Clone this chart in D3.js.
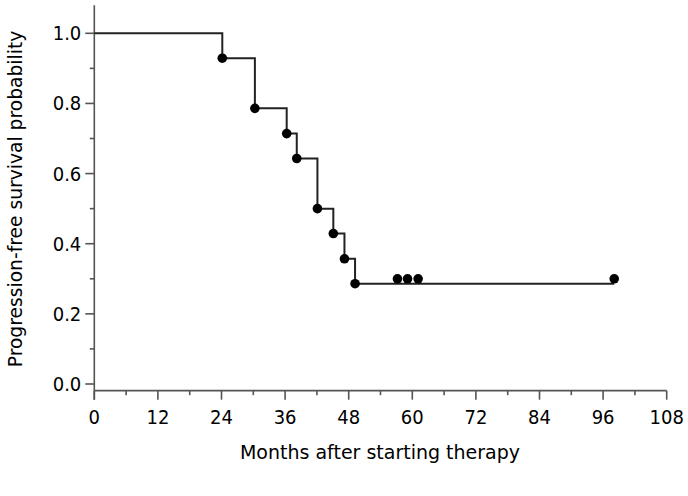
<!DOCTYPE html>
<html>
<head>
<meta charset="utf-8">
<script src="https://cdn.jsdelivr.net/npm/d3@7"></script>
<style>
  html, body { margin: 0; padding: 0; background: #fff; }
  svg { display: block; font-family: "DejaVu Sans", Verdana, sans-serif; }
</style>
</head>
<body>
<svg id="chart" width="688" height="496"></svg>
<script>
// ---- data ----
const eventTimes = [24.15, 30.3, 36.3, 38.2, 42.1, 45.1, 47.2, 49.2];
const survival   = [0.929, 0.786, 0.714, 0.643, 0.500, 0.429, 0.357, 0.286];
const censorTimes  = [57.2, 59.1, 61.1, 98.1];
const censorValues = [0.30, 0.30, 0.30, 0.30];
const followUpEnd = 98.1;
const xTicks = [0, 12, 24, 36, 48, 60, 72, 84, 96, 108];
const yTicks = [0.0, 0.2, 0.4, 0.6, 0.8, 1.0];
const xLabel = "Months after starting therapy";
const yLabel = "Progression-free survival probability";

// ---- layout ----
const svg = d3.select("#chart");
const x = d3.scaleLinear().domain([0, 108]).range([94.3, 666.7]);
const y = d3.scaleLinear().domain([0, 1]).range([384, 33.3]);
const axisY = y(-0.019);     // x-axis line position (below zero)
const axisTop = y(1.08);
const axisColor = "#555";
const textColor = "#000";

// x axis
const xMinor = d3.range(6, 108, 12);
const gx = svg.append("g").attr("transform", `translate(0,${axisY})`);
gx.append("line").attr("x1", x(0)).attr("x2", x(108)).attr("stroke", axisColor).attr("stroke-width", 1.6);
gx.selectAll("line.maj").data(xTicks).join("line").attr("class", "maj")
  .attr("x1", d => x(d)).attr("x2", d => x(d)).attr("y1", 0).attr("y2", 9)
  .attr("stroke", axisColor).attr("stroke-width", 1.6);
gx.selectAll("line.min").data(xMinor).join("line").attr("class", "min")
  .attr("x1", d => x(d)).attr("x2", d => x(d)).attr("y1", 0).attr("y2", 4.5)
  .attr("stroke", axisColor).attr("stroke-width", 1.6);
gx.selectAll("text").data(xTicks).join("text")
  .attr("transform", d => `translate(${x(d)},33) scale(1,1.1)`).attr("text-anchor", "middle")
  .attr("font-size", 18).attr("fill", textColor).text(d => d);

// y axis
const yMinor = [0.1, 0.3, 0.5, 0.7, 0.9];
const gy = svg.append("g").attr("transform", `translate(${x(0)},0)`);
gy.append("line").attr("y1", axisTop).attr("y2", axisY + 9).attr("stroke", axisColor).attr("stroke-width", 1.6);
gy.selectAll("line.maj").data(yTicks).join("line").attr("class", "maj")
  .attr("x1", 0).attr("x2", -9).attr("y1", d => y(d)).attr("y2", d => y(d))
  .attr("stroke", axisColor).attr("stroke-width", 1.6);
gy.selectAll("line.min").data(yMinor).join("line").attr("class", "min")
  .attr("x1", 0).attr("x2", -4.5).attr("y1", d => y(d)).attr("y2", d => y(d))
  .attr("stroke", axisColor).attr("stroke-width", 1.6);
gy.selectAll("text").data(yTicks).join("text")
  .attr("transform", d => `translate(-13,${y(d)}) scale(1,1.1)`).attr("dy", "0.35em").attr("text-anchor", "end")
  .attr("font-size", 18).attr("fill", textColor).text(d => d.toFixed(1));

// axis titles
svg.append("text").attr("x", 380).attr("y", 459).attr("text-anchor", "middle")
  .attr("font-size", 19).attr("fill", textColor).text(xLabel);
svg.append("text").attr("transform", `translate(22,199) rotate(-90)`)
  .attr("text-anchor", "middle").attr("font-size", 18.7).attr("fill", textColor).text(yLabel);

// step curve
const pts = [[0, 1]];
eventTimes.forEach((t, i) => pts.push([t, survival[i]]));
pts.push([followUpEnd, survival[survival.length - 1]]);
const line = d3.line().x(d => x(d[0])).y(d => y(d[1])).curve(d3.curveStepAfter);
svg.append("path").attr("d", line(pts)).attr("fill", "none")
  .attr("stroke", "#222").attr("stroke-width", 2);

// event dots
svg.selectAll("circle.ev").data(eventTimes).join("circle").attr("class", "ev")
  .attr("cx", d => x(d)).attr("cy", (d, i) => y(survival[i])).attr("r", 4.8).attr("fill", "#000");
// censor dots
svg.selectAll("circle.cs").data(censorTimes).join("circle").attr("class", "cs")
  .attr("cx", d => x(d)).attr("cy", (d, i) => y(censorValues[i])).attr("r", 4.8).attr("fill", "#000");
</script>
</body>
</html>
